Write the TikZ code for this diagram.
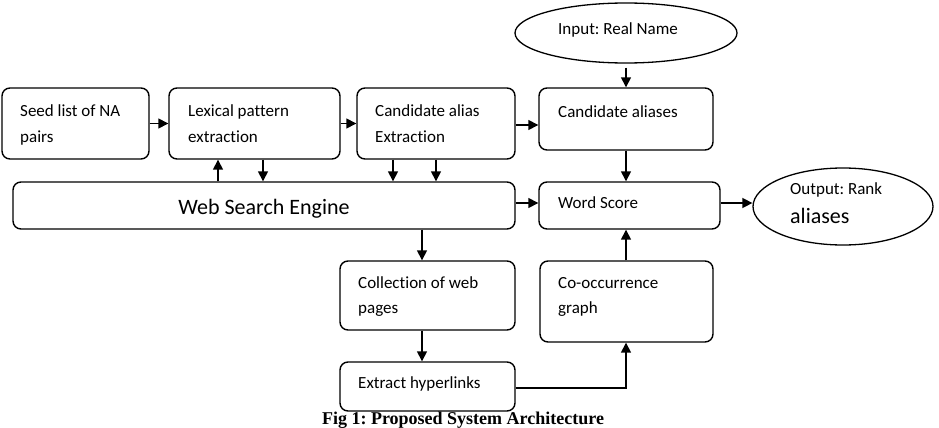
\documentclass[tikz,border=0pt]{standalone}
\usepackage{fontspec}
\setmainfont{Carlito}[Ligatures={NoCommon}]
\newfontfamily\capfont{Liberation Serif}
\usetikzlibrary{shapes.geometric,arrows.meta}
\frenchspacing
\begin{document}
\begin{tikzpicture}[x=1pt,y=-1pt,
  box/.style={draw,line width=1.4pt,rounded corners=8pt,inner sep=0pt},
  oval/.style={draw,line width=1.3pt,ellipse,inner sep=0pt},
  lbl/.style={anchor=base west,inner sep=0pt,font=\fontsize{17}{25}\selectfont},
  big/.style={font=\fontsize{22}{26}\selectfont},
  arr/.style={line width=1.5pt,-{Triangle[length=10pt,width=10pt]}},
  ln/.style={line width=1.5pt}]
\useasboundingbox (0,0) rectangle (939,428);
% boxes
\node[box,minimum width=147pt,minimum height=71pt] (seed) at (75.5,123.5) {};
\node[box,minimum width=171pt,minimum height=71pt] (lex) at (254.5,123.5) {};
\node[box,minimum width=158pt,minimum height=71pt] (cae) at (436,123.5) {};
\node[box,minimum width=174pt,minimum height=62pt] (ca) at (626,119) {};
\node[box,minimum width=502pt,minimum height=47pt] (wse) at (264,205.5) {};
\node[box,minimum width=181pt,minimum height=47pt] (ws) at (629.5,205.5) {};
\node[box,minimum width=175pt,minimum height=69pt] (coll) at (427.5,295.5) {};
\node[box,minimum width=173pt,minimum height=81pt] (co) at (626.5,301.5) {};
\node[box,minimum width=175pt,minimum height=49pt] (ext) at (427.5,386.5) {};
\node[oval,minimum width=222pt,minimum height=60pt] (inp) at (626,33) {};
\node[oval,minimum width=180pt,minimum height=77pt] (outp) at (843,206.5) {};
% texts
\node[lbl] (seedA) at (20,116) {Seed list of NA};
\node[lbl] (seedB) at (20,142) {pairs};
\node[lbl] (lexA) at (188,116) {Lexical pattern};
\node[lbl] (lexB) at (188,142) {extraction};
\node[lbl] (caeA) at (375,116) {Candidate alias};
\node[lbl] (caeB) at (375,142) {Extraction};
\node[lbl] (caT) at (558,117) {Candidate aliases};
\node[big,inner sep=0pt,anchor=base] (wseT) at (264,214) {Web Search Engine};
\node[lbl] (wsT) at (558,208) {Word Score};
\node[lbl] (collA) at (358,288) {Collection of web};
\node[lbl] (collB) at (358,313) {pages};
\node[lbl] (coA) at (558,288) {Co-occurrence};
\node[lbl] (coB) at (558,313) {graph};
\node[lbl] (extT) at (358,388) {Extract hyperlinks};
\node[lbl] (inpT) at (558,35) {Input: Real Name};
\node[lbl] (outA) at (790,194) {Output: Rank};
\node[lbl,big] (outB) at (790,223) {aliases};
\node[inner sep=0pt,anchor=base,font=\capfont\bfseries\fontsize{18}{20}\selectfont] (cap) at (463,424) {Fig 1: Proposed System Architecture};
% connectors
\draw[arr] (seed.east) -- (lex.west);
\draw[arr] (lex.east) -- (cae.west);
\draw[arr] (cae.east |- 0,125) -- (ca.west |- 0,125);
\draw[arr] (inp.south) ++(0,4) -- (ca.north);
\draw[arr] (ca.south) -- (ca.south |- ws.north);
\draw[arr] (wse.north -| 218,0) -- (lex.south -| 218,0);
\draw[arr] (lex.south -| 263,0) -- (wse.north -| 263,0);
\draw[arr] (cae.south -| 393,0) -- (wse.north -| 393,0);
\draw[arr] (cae.south -| 436,0) -- (wse.north -| 436,0);
\draw[arr] (wse.east |- 0,203) -- (ws.west |- 0,203);
\draw[arr] (wse.south -| 422,0) -- (coll.north -| 422,0);
\draw[arr] (coll.south -| 422,0) -- (ext.north -| 422,0);
\draw[arr] (ext.east |- 0,388) -| (co.south -| 626,0);
\draw[arr] (co.north -| 626,0) -- (ws.south -| 626,0);
\draw[arr] (ws.east |- 0,203) -- (outp.west |- 0,203);
\end{tikzpicture}
\end{document}
